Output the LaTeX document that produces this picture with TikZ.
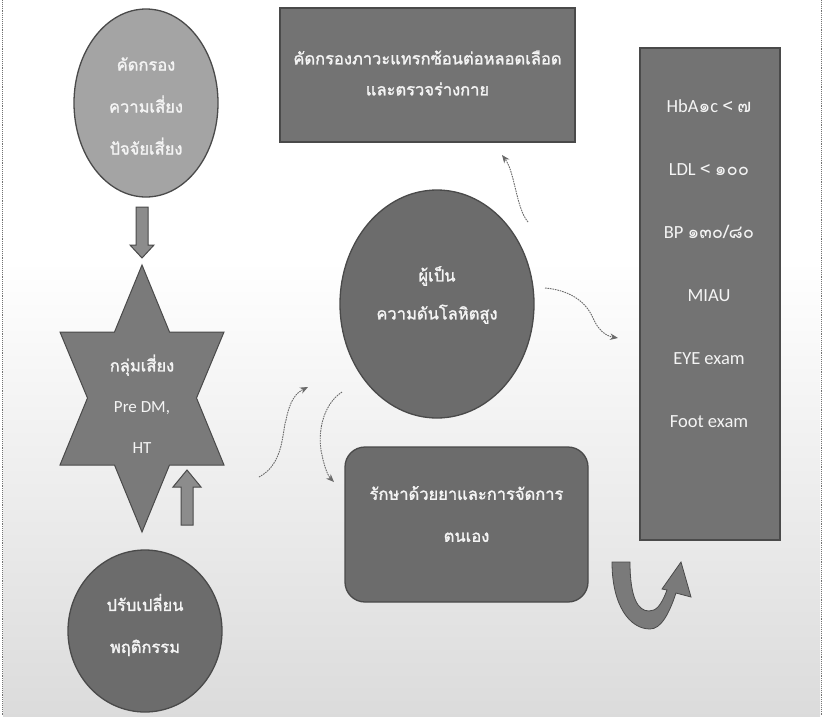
\documentclass[tikz,border=0pt]{standalone}
\usepackage{fontspec}
\setmainfont{Carlito}
\newfontfamily\thai[Script=Thai]{Loma}
\newfontfamily\thaib[Script=Thai,FakeBold=1.6]{Loma}
\usetikzlibrary{shapes.geometric,arrows.meta,calc}
\definecolor{edge}{HTML}{4A4A4A}
\definecolor{fillA}{HTML}{A4A4A4}
\definecolor{fillB}{HTML}{7A7A7A}
\definecolor{fillC}{HTML}{6C6C6C}
\definecolor{fillD}{HTML}{737373}
\definecolor{conn}{HTML}{6A6A6A}
\definecolor{blk}{HTML}{8C8C8C}
\definecolor{txt}{HTML}{F4F4F4}
\begin{document}
\begin{tikzpicture}[x=1pt,y=-1pt,
  shapebox/.style={draw=edge, line width=1.3pt, inner sep=0pt},
  lbl/.style={text=txt, align=center, inner sep=0pt},
  thaitext/.style={font=\thaib\fontsize{16.5}{42}\selectfont},
  thinconn/.style={draw=conn, line width=0.9pt, dash pattern=on 1.6pt off 0.9pt,
    -{Stealth[length=8pt,width=6.5pt]}},
  blockarrow/.style={fill=blk, draw=edge, line width=1pt, line join=miter}
]
\useasboundingbox (0,0) rectangle (828,716);
% background
\fill[white] (0,0) rectangle (828,716);
\shade[top color=white, bottom color=black!14] (3,260) rectangle (820,716);
\draw[black!55, line width=0.9pt, densely dotted] (2,0) -- (2,716);
\draw[black!55, line width=0.9pt, densely dotted] (821,0) -- (821,716);

% top-left ellipse
\node[shapebox, ellipse, fill=fillA, minimum width=144pt, minimum height=188pt] (risk) at (146,103) {};
\node[lbl, thaitext] (risktext) at (146,106) {คัดกรอง\\ความเสี่ยง\\ปัจจัยเสี่ยง};

% down block arrow
\draw[blockarrow] (136,207) -- (148,207) -- (148,245) -- (154,245) -- (142,258) -- (130,245) -- (136,245) -- cycle;

% star
\fill[fillB, draw=edge, line width=1pt]
  (142,265) -- (169.5,332) -- (224,332) -- (196.5,398) -- (224,465) -- (169.5,465)
  -- (142,532) -- (114.5,465) -- (60,465) -- (87.5,398) -- (60,332) -- (114.5,332) -- cycle;
\node[lbl, font=\fontsize{17}{41}\selectfont] (star) at (142,404) {{\thaib\fontsize{16.5}{41}\selectfont กลุ่มเสี่ยง}\\Pre DM,\\HT};

% up block arrow
\draw[blockarrow] (181,525) -- (193,525) -- (193,487) -- (201,487) -- (187,470) -- (173,487) -- (181,487) -- cycle;

% bottom-left circle
\node[shapebox, ellipse, fill=fillC, minimum width=154pt, minimum height=162pt] (behav) at (145,631) {};
\node[lbl, thaitext] (behavtext) at (145,625) {ปรับเปลี่ยน\\พฤติกรรม};

% top rectangle
\node[shapebox, rectangle, fill=fillD, minimum width=295pt, minimum height=134pt] (screen) at (427.5,75) {};
\node[lbl, font=\thaib\fontsize{16.5}{31}\selectfont] (screentext) at (427.5,73) {คัดกรองภาวะแทรกซ้อนต่อหลอดเลือด\\และตรวจร่างกาย};

% centre circle
\node[shapebox, ellipse, fill=fillC, minimum width=194pt, minimum height=228pt] (patient) at (437,304) {};
\node[lbl, font=\thaib\fontsize{16.5}{38}\selectfont] (patienttext) at (437,295) {ผู้เป็น\\ความดันโลหิตสูง};

% right tall rectangle
\node[shapebox, rectangle, fill=fillD, minimum width=140pt, minimum height=492pt] (targets) at (710,294) {};
\node[lbl, font=\fontsize{18.5}{63}\selectfont] (targettext) at (709,264)
  {HbA{\thai ๑}c {\thai<} {\thai ๗}\\LDL {\thai<} {\thai ๑๐๐}\\BP {\thai ๑๓๐/๘๐}\\MIAU\\EYE exam\\Foot exam};

% rounded rectangle
\node[shapebox, rectangle, rounded corners=20pt, fill=fillC, minimum width=243pt, minimum height=155pt] (treat) at (466.5,524.5) {};
\node[lbl, thaitext] (treattext) at (466.5,514) {รักษาด้วยยาและการจัดการ\\ตนเอง};

% U-turn arrow
\fill[fillB, draw=edge, line width=0.8pt]
  (612,562) .. controls (612,606) and (630,629) .. (650,629)
  .. controls (661,629) and (669,614) .. (676,593)
  -- (691,597) -- (681,562) -- (662,589) -- (667,590)
  .. controls (661,606) and (656,611) .. (649,611)
  .. controls (638,611) and (630,598) .. (630,562) -- cycle;

% thin curved connectors
\coordinate (c1a) at (528,222);
\coordinate (c1b) at (502,155);
\draw[thinconn] (c1a) .. controls (516,208) and (515,172) .. (c1b);
\coordinate (c2a) at (545,288);
\coordinate (c2m) at (593,318);
\coordinate (c2b) at (618,338);
\draw[thinconn] (c2a) .. controls (568,290) and (585,300) .. (c2m) .. controls (598,330) and (606,336) .. (c2b);
\coordinate (c3a) at (259,477);
\coordinate (c3m) at (286,420);
\coordinate (c3b) at (308,387);
\draw[thinconn] (c3a) .. controls (284,464) and (282,432) .. (c3m) .. controls (290,400) and (296,393) .. (c3b);
\coordinate (c4a) at (342,392);
\coordinate (c4m) at (322,455);
\coordinate (c4b) at (334,482);
\draw[thinconn] (c4a) .. controls (322,405) and (317,435) .. (c4m) .. controls (325,470) and (329,477) .. (c4b);
\end{tikzpicture}
\end{document}
